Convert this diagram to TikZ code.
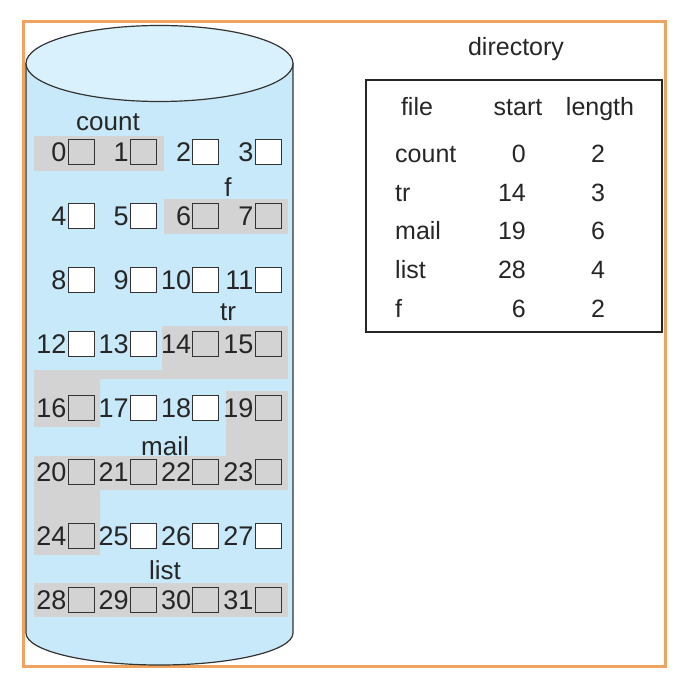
\documentclass[tikz,border=0pt]{standalone}
\usepackage{fontspec}
\setmainfont{Liberation Sans}
\definecolor{frameor}{HTML}{F0A35E}
\definecolor{cylblue}{HTML}{C8E9F9}
\definecolor{cyltop}{HTML}{D8F1FC}
\definecolor{hlgray}{HTML}{D3D3D3}
\definecolor{edgec}{HTML}{333333}
\tikzset{
  cellbox/.style={draw=edgec, line width=1pt, minimum width=26pt, minimum height=25pt, inner sep=0pt},
  num/.style={inner sep=0pt, anchor=east, font=\fontsize{27}{30}\selectfont, text=black!85},
  lbl/.style={inner sep=0pt, anchor=base, font=\fontsize{26}{30}\selectfont, text=black!85},
  tlbl/.style={inner sep=0pt, anchor=base, font=\fontsize{25}{30}\selectfont, text=black!85},
  tlbll/.style={tlbl, anchor=base west},
  tlblr/.style={tlbl, anchor=base east},
}
\begin{document}
\begin{tikzpicture}[x=1pt,y=-1pt]
\useasboundingbox (0,0) rectangle (686,692);
% frame
\draw[frameor, line width=3pt] (23,22) rectangle (665,666);
% cylinder
\fill[cylblue] (26,63) rectangle (293,633);
\fill[cylblue] (159.5,633) ellipse[x radius=133.5pt, y radius=32pt];
\draw[edgec, line width=1.2pt] (26,63) -- (26,633) arc[start angle=180, end angle=360, x radius=133.5pt, y radius=32pt] -- (293,63);
\draw[edgec, line width=1.2pt, fill=cyltop] (159.5,63.5) ellipse[x radius=133.5pt, y radius=38pt];
% highlighted regions
\fill[hlgray] (34,136) rectangle (164,171);
\fill[hlgray] (164,199) rectangle (288,234);
\fill[hlgray] (162,326) -- (288,326) -- (288,379) -- (100,379) -- (100,427) -- (34,427) -- (34,370) -- (162,370) -- cycle;
\fill[hlgray] (226,391) -- (288,391) -- (288,490) -- (100,490) -- (100,555) -- (34,555) -- (34,456) -- (226,456) -- cycle;
\fill[hlgray] (34,583) rectangle (288,617);
% file labels
\node[lbl] (lcount) at (108,131) {count};
\node[lbl] (lf) at (228,197) {f};
\node[lbl] (ltr) at (228,320) {tr};
\node[lbl] (lmail) at (165,455) {mail};
\node[lbl] (llist) at (165,579) {list};
% blocks
\foreach \i/\c in {0/hlgray,1/hlgray,2/white,3/white,4/white,5/white,6/hlgray,7/hlgray,
                   8/white,9/white,10/white,11/white,12/white,13/white,14/hlgray,15/hlgray,
                   16/hlgray,17/white,18/white,19/hlgray,20/hlgray,21/hlgray,22/hlgray,23/hlgray,
                   24/hlgray,25/white,26/white,27/white,28/hlgray,29/hlgray,30/hlgray,31/hlgray}{
  \pgfmathsetmacro{\bx}{68+62.4*mod(\i,4)}
  \pgfmathsetmacro{\by}{152+64*int(\i/4)}
  \node[cellbox, fill=\c] (c\i) at (\bx+13,\by) {};
  \node[num] (n\i) at (\bx-1.5,\by) {\i};
}
% directory
\node[tlbl] (dir) at (516,56) {directory};
\draw[black!85, line width=2pt] (366,80) rectangle (662,332);
\node[tlbl] (hfile) at (417,116) {file};
\node[tlbl] (hstart) at (518,116) {start};
\node[tlbl] (hlength) at (600,116) {length};
\foreach \f/\s/\l/\y [count=\k] in {count/0/2/163, tr/14/3/202, mail/19/6/240, list/28/4/278, f/6/2/317}{
  \node[tlbll] (rf\k) at (395,\y) {\f};
  \node[tlblr] (rs\k) at (526,\y) {\s};
  \node[tlbl] (rl\k) at (598,\y) {\l};
}
\end{tikzpicture}
\end{document}
